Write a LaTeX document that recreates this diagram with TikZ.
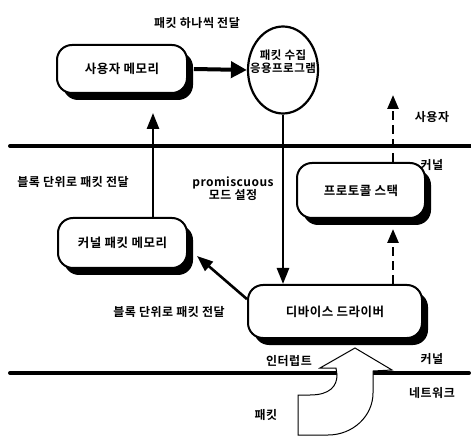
\documentclass[tikz,border=0pt]{standalone}
\usepackage{fontspec}
\setmainfont{Noto Sans CJK KR}[BoldFont={Noto Sans CJK KR Bold}, LetterSpace=4]
\usetikzlibrary{arrows.meta,shapes.geometric,shadows}
\tikzset{
  lbl/.style={font=\fontsize{12}{14}\selectfont\bfseries, inner sep=0pt, align=center},
  rbox/.style={draw, line width=2pt, rounded corners=15pt, fill=white,
    inner sep=0pt, font=\fontsize{12.5}{14}\selectfont\bfseries,
    drop shadow={shadow xshift=6pt, shadow yshift=-7pt, fill=black, opacity=1}},
  varrow/.style={line width=2.6pt, -{Triangle[length=16pt,width=12pt]}},
  harrow/.style={line width=4pt, -{Triangle[length=16pt,width=16pt]}},
  darrow/.style={line width=2.6pt, dash pattern=on 9pt off 5pt, -{Triangle[length=14pt,width=11pt]}},
  thinline/.style={line width=1pt},
  bar/.style={line width=4pt, line cap=round},
}
\begin{document}
\begin{tikzpicture}[x=1pt,y=-1pt]
\useasboundingbox (0,0) rectangle (471,438);
% layer lines
\draw[bar] (10,146) -- (471,146);
\draw[bar] (10,373) -- (469,373);
% boxes
\node[rbox, minimum width=130pt, minimum height=48pt] (um) at (122,69) {사용자 메모리};
\node[rbox, minimum width=128pt, minimum height=55pt] (ps) at (361,190.5) {프로토콜 스택};
\node[rbox, minimum width=129pt, minimum height=50pt] (kpm) at (122.5,243) {커널 패킷 메모리};
\node[rbox, minimum width=174pt, minimum height=53pt] (dd) at (335,311.5) {디바이스 드라이버};
\node[draw, line width=2.2pt, ellipse, fill=white, minimum width=70pt, minimum height=87pt, inner sep=0pt] (app) at (283,70) {};
\node[lbl, font=\fontsize{11.5}{14}\selectfont\bfseries] (appt) at (283,62) {패킷 수집\\[-1pt]응용프로그램};
% labels
\node[lbl] (l1) at (197,23) {패킷 하나씩 전달};
\node[lbl] (l2) at (73,182) {블록 단위로 패킷 전달};
\node[lbl] (l3) at (233,189) {promiscuous\\[-1pt]모드 설정};
\node[lbl] (l4) at (169,312) {블록 단위로 패킷 전달};
\node[lbl] (u1) at (432,117) {사용자};
\node[lbl] (k1) at (432,165) {커널};
\node[lbl] (k2) at (432,359) {커널};
\node[lbl] (n1) at (432,393) {네트워크};
\node[lbl] (intr) at (289,361) {인터럽트};
\node[lbl] (pkt) at (266,415) {패킷};
% connectors
\coordinate (upTip) at (153,113);
\coordinate (dTip) at (393,95);
\coordinate (kTip) at (197,256);
\draw[harrow] ([xshift=6pt]um.east) -- (app.west);
\draw[varrow] (kpm.north -| upTip) -- (upTip);
\draw[varrow] (app.south) -- (app.south |- dd.north);
\draw[darrow] (ps.north -| dTip) -- (dTip);
\draw[darrow] (dd.north -| dTip) -- ([yshift=-10pt]ps.south -| dTip);
\draw[varrow] (dd.172) -- (kTip);
% hollow curved arrow from network
\draw[thinline, fill=white, line join=miter]
  (320,368) -- (355,348) -- (392,370) -- (373,371) -- (373,393)
  .. controls (373,416) and (353,435) .. (328,435) -- (298,435) -- (298,395) -- (310,395)
  .. controls (330,395) and (337,386) .. (337,375) -- (336,368) -- cycle;
\end{tikzpicture}
\end{document}
